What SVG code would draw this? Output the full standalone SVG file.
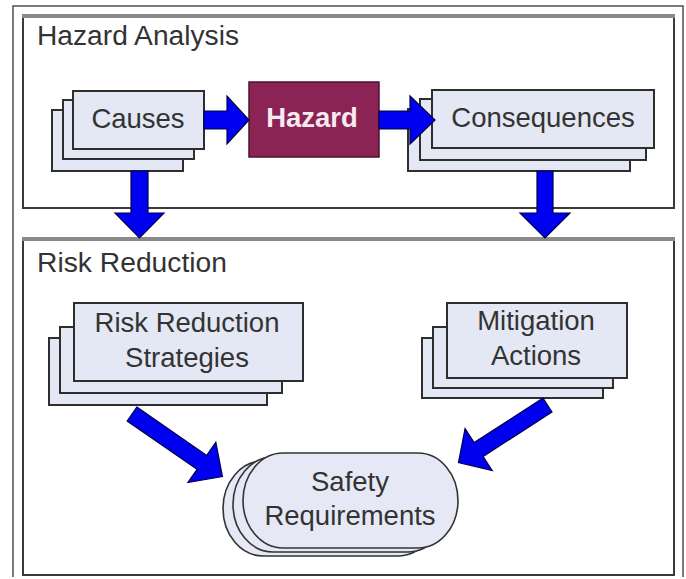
<svg xmlns="http://www.w3.org/2000/svg" width="686" height="579" viewBox="0 0 686 579">
<style>
  .frame { fill: none; stroke: #505050; stroke-width: 1.5; }
  .panel { fill: #ffffff; stroke: #3a3a3a; stroke-width: 2; }
  .paneltop { stroke: #8a8a8a; stroke-width: 4; }
  .box { fill: #e4e8f4; stroke: #2e2e2e; stroke-width: 2; }
  .pill { fill: #e6e9f5; stroke: #333333; stroke-width: 1.6; }
  .hazard { fill: #8b2355; stroke: #4a1530; stroke-width: 1.5; }
  .arrow { fill: #0000f0; stroke: #00004a; stroke-width: 1.2; stroke-linejoin: miter; }
  .title { font-family: "Liberation Sans", Arial, sans-serif; font-size: 27px; fill: #333333; }
  .label { font-family: "Liberation Sans", Arial, sans-serif; font-size: 27.5px; fill: #333333; text-anchor: middle; }
  .hlabel { font-family: "Liberation Sans", Arial, sans-serif; font-size: 27.5px; font-weight: bold; fill: #f8eaf1; text-anchor: middle; }
</style>

<path class="frame" d="M13,577 L13,6 L683,6 L683,577"/>

<g id="hazard-analysis">
  <rect class="panel" x="23" y="17" width="651" height="191"/>
  <line class="paneltop" x1="22" y1="16" x2="675" y2="16"/>
  <text class="title" x="37" y="45" textLength="202" lengthAdjust="spacingAndGlyphs">Hazard Analysis</text>
</g>

<g id="risk-reduction">
  <rect class="panel" x="23" y="240" width="651" height="335"/>
  <line class="paneltop" x1="22" y1="239" x2="675" y2="239"/>
  <text class="title" x="37" y="272" textLength="190" lengthAdjust="spacingAndGlyphs">Risk Reduction</text>
</g>

<g id="causes">
  <rect class="box" x="52" y="110" width="131" height="61"/>
  <rect class="box" x="63" y="100" width="131" height="59"/>
  <rect class="box" x="73" y="91" width="131" height="58"/>
  <text class="label" x="138" y="128">Causes</text>
</g>

<g id="hazard">
  <rect class="hazard" x="249" y="82" width="130" height="75"/>
  <text class="hlabel" x="312" y="127">Hazard</text>
</g>

<g id="consequences">
  <rect class="box" x="408" y="109" width="222" height="62"/>
  <rect class="box" x="420" y="99" width="226" height="61"/>
  <rect class="box" x="432" y="90" width="222" height="58"/>
  <text class="label" x="543" y="127">Consequences</text>
</g>

<g id="risk-reduction-strategies">
  <rect class="box" x="49" y="338" width="218" height="67"/>
  <rect class="box" x="60" y="327" width="222" height="66"/>
  <rect class="box" x="74" y="303" width="229" height="78"/>
  <text class="label" x="187" y="332">Risk Reduction</text>
  <text class="label" x="187" y="367">Strategies</text>
</g>

<g id="mitigation-actions">
  <rect class="box" x="422" y="338" width="181" height="60"/>
  <rect class="box" x="433" y="327" width="180" height="61"/>
  <rect class="box" x="447" y="303" width="180" height="75"/>
  <text class="label" x="536" y="330">Mitigation</text>
  <text class="label" x="536" y="365">Actions</text>
</g>

<g id="safety-requirements">
  <rect class="pill" x="223" y="461" width="215" height="95" rx="40" ry="47.5"/>
  <rect class="pill" x="233" y="457" width="215" height="95" rx="40" ry="47.5"/>
  <rect class="pill" x="243" y="453" width="215" height="95" rx="40" ry="47.5"/>
  <text class="label" x="350" y="491">Safety</text>
  <text class="label" x="350" y="525">Requirements</text>
</g>

<g id="connectors">
  <polygon class="arrow" points="204,111 227,111 227,96 249,120 227,144 227,129 204,129"/>
  <polygon class="arrow" points="379,111 410,111 410,96 435,120 410,144 410,129 379,129"/>
  <polygon class="arrow" points="131,171 148,171 148,213 164,213 139.5,238 115,213 131,213"/>
  <polygon class="arrow" points="537,171 553,171 553,213 570,213 545,238 520,213 537,213"/>
  <polygon class="arrow" transform="translate(132,414) rotate(34.7)" points="0,-8.5 85,-8.5 85,-24.5 110,0 85,24.5 85,8.5 0,8.5"/>
  <polygon class="arrow" transform="translate(547.5,405) rotate(147.1)" points="0,-8.3 82,-8.3 82,-25 106,0 82,25 82,8.3 0,8.3"/>
</g>
</svg>
